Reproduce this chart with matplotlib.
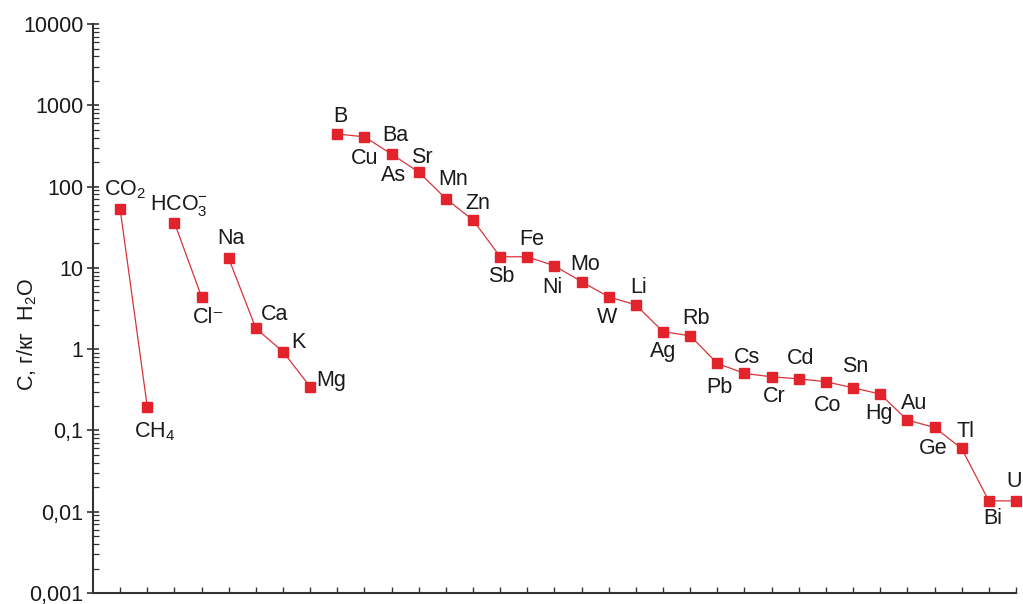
import matplotlib
matplotlib.use('Agg')
import matplotlib.pyplot as plt
from matplotlib.ticker import LogLocator, NullFormatter, FixedLocator

FONT = ['Liberation Sans Narrow', 'Liberation Sans', 'DejaVu Sans']
plt.rcParams['font.family'] = FONT
plt.rcParams['mathtext.fontset'] = 'custom'
plt.rcParams['mathtext.rm'] = 'Liberation Sans'
plt.rcParams['mathtext.it'] = 'Liberation Sans:italic'
plt.rcParams['mathtext.bf'] = 'Liberation Sans:bold'

# groups of components, x position on the axis and concentration (g/kg H2O)
gas_names = ['CO$_2$', 'CH$_4$']
gas_x = [1, 2]
gas_c = [53, 0.195]

anion_names = ['HCO$_3^{-}$', 'Cl\u207b']
anion_x = [3, 4]
anion_c = [36, 4.4]

cation_names = ['Na', 'Ca', 'K', 'Mg']
cation_x = [5, 6, 7, 8]
cation_c = [13.1, 1.8, 0.93, 0.345]

trace_names = ['B', 'Cu', 'Ba', 'Sr', 'Mn', 'Zn', 'Sb', 'Fe', 'Ni', 'Mo', 'W', 'Li',
               'Ag', 'Rb', 'Pb', 'Cs', 'Cr', 'Cd', 'Co', 'Sn', 'Hg', 'Au', 'Ge', 'Tl',
               'Bi', 'U']
trace_x = list(range(9, 35))
trace_c = [443, 410, 251, 151, 71, 38.7, 13.7, 13.7, 10.6, 6.75, 4.4, 3.5,
           1.64, 1.46, 0.668, 0.503, 0.457, 0.432, 0.397, 0.335, 0.280, 0.134, 0.109, 0.060,
           0.0136, 0.0136]
# As shares the point with Ba
extra_names = ['As']
extra_x = [11]
extra_c = [251]

# label offsets in pixels (dx, dy up) from each point, left-aligned text
gas_off = [(-16, 19), (-13, -25)]
anion_off = [(-24, 17), (-9, -21)]
cation_off = [(-11, 20), (5, 14), (8, 9), (6, 6)]
trace_off = [(-4, 18), (-14, -22), (-9, 19), (-8, 15), (-8, 19), (-8, 17), (-12, -20),
             (-8, 17), (-12, -22), (-11, 17), (-12, -21), (-6, 17), (-13, -20), (-8, 17),
             (-11, -24), (-11, 16), (-9, -20), (-12, 20), (-12, -24), (-11, 21), (-15, -19),
             (-6, 17), (-16, -21), (-5, 17), (-6, -18), (-10, 19)]
extra_off = [(-11, -21)]

RED = '#e2232b'
LINE = '#d8343a'

fig = plt.figure(figsize=(10.23, 6.04), dpi=100)
ax = fig.add_axes([0.0909, 0.0182, 0.9022, 0.942])

groups = [
    (gas_names, gas_x, gas_c, gas_off),
    (anion_names, anion_x, anion_c, anion_off),
    (cation_names, cation_x, cation_c, cation_off),
    (trace_names, trace_x, trace_c, trace_off),
]
for names, xs, cs, offs in groups:
    ax.plot(xs, cs, color=LINE, lw=0.9, marker='s', ms=6.5,
            mfc=RED, mec=RED, zorder=3, clip_on=False)
for names, xs, cs, offs in groups + [(extra_names, extra_x, extra_c, extra_off)]:
    for n, x, c, (dx, dy) in zip(names, xs, cs, offs):
        ax.annotate(n, (x, c), xytext=(dx, dy), textcoords='offset pixels',
                    ha='left', va='center', fontsize=15.5, color='#1a1a1a')

ax.set_yscale('log')
ax.set_ylim(0.001, 10000)
ax.set_xlim(0, 34)
ax.set_yticks([0.001, 0.01, 0.1, 1, 10, 100, 1000, 10000])
ax.set_yticklabels(['0,001', '0,01', '0,1', '1', '10', '100', '1000', '10000'])
ax.yaxis.set_minor_locator(LogLocator(base=10, subs=range(2, 10), numticks=20))
ax.yaxis.set_minor_formatter(NullFormatter())
ax.xaxis.set_major_locator(FixedLocator(list(range(1, 35))))
ax.set_xticklabels([])

ax.tick_params(axis='y', which='major', direction='inout', length=8, width=1.2,
               labelsize=15.5, pad=3, colors='#333333', labelcolor='#1a1a1a')
ax.tick_params(axis='y', which='minor', direction='in', length=4, width=0.9,
               colors='#333333')
ax.tick_params(axis='x', which='major', direction='in', length=4, width=1.0,
               colors='#333333')

for side in ['top', 'right']:
    ax.spines[side].set_visible(False)
for side in ['left', 'bottom']:
    ax.spines[side].set_color('#333333')
    ax.spines[side].set_linewidth(1.5)

ax.set_ylabel('C, г/кг  H$_2$O', fontsize=15.5, color='#1a1a1a')
ax.yaxis.set_label_coords(-0.059, 0.455)

fig.savefig('out.png', dpi=100)
